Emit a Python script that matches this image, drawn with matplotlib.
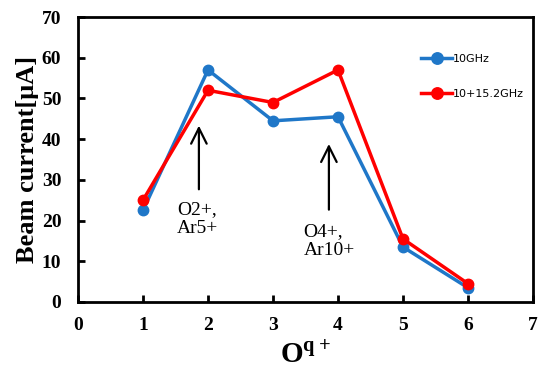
import matplotlib.pyplot as plt

charge = [1, 2, 3, 4, 5, 6]
cur_10 = [22.5, 57, 44.5, 45.5, 13.5, 3.5]
cur_dual = [25, 52, 49, 57, 15.5, 4.5]

plt.rcParams['mathtext.fontset'] = 'custom'
plt.rcParams['mathtext.rm'] = 'Liberation Serif'
plt.rcParams['mathtext.bf'] = 'Liberation Serif:bold'

fig = plt.figure(figsize=(5.42, 3.68), dpi=100)
ax = fig.add_axes([78/542, 66/368, 455/542, 285/368])

ax.plot(charge, cur_10, color='#1f77c8', lw=2.5, marker='o', ms=7.5, label='10GHz')
ax.plot(charge, cur_dual, color='#ff0000', lw=2.5, marker='o', ms=7.5, label='10+15.2GHz')

ax.set_xlim(0, 7)
ax.set_ylim(0, 70)
ax.set_xticks(range(0, 8))
ax.set_yticks(range(0, 80, 10))
for s in ax.spines.values():
    s.set_linewidth(2)
ax.tick_params(direction='in', length=5, width=2)
ax.tick_params(axis='x', pad=11)
ax.tick_params(axis='y', pad=12)
for lab in ax.get_xticklabels() + ax.get_yticklabels():
    lab.set_fontfamily('Liberation Serif')
    lab.set_fontweight('bold')
    lab.set_fontsize(14)

ax.set_ylabel('Beam current[μA]', family='Liberation Serif', weight='bold', fontsize=19, labelpad=2)
ax.set_xlabel(r'$\mathbf{O}^{\mathbf{q+}}$', fontsize=21, labelpad=5)

ax.annotate('', xy=(1.86, 44), xytext=(1.86, 27),
            arrowprops=dict(arrowstyle='->', lw=1.6, color='black', mutation_scale=28))
ax.text(1.52, 24.7, 'O2+,\nAr5+', family='Liberation Serif', fontsize=14, va='top', linespacing=1.15)
ax.annotate('', xy=(3.86, 39.5), xytext=(3.86, 22),
            arrowprops=dict(arrowstyle='->', lw=1.6, color='black', mutation_scale=28))
ax.text(3.47, 19.5, 'O4+,\nAr10+', family='Liberation Serif', fontsize=14, va='top', linespacing=1.15)

ax.legend(loc='upper left', bbox_to_anchor=(0.732, 0.905), frameon=False,
          handlelength=2.8, handletextpad=0.1, labelspacing=2.2, markerscale=1.1,
          prop={'family': 'DejaVu Sans', 'size': 8})

fig.savefig('out.png', dpi=100)
